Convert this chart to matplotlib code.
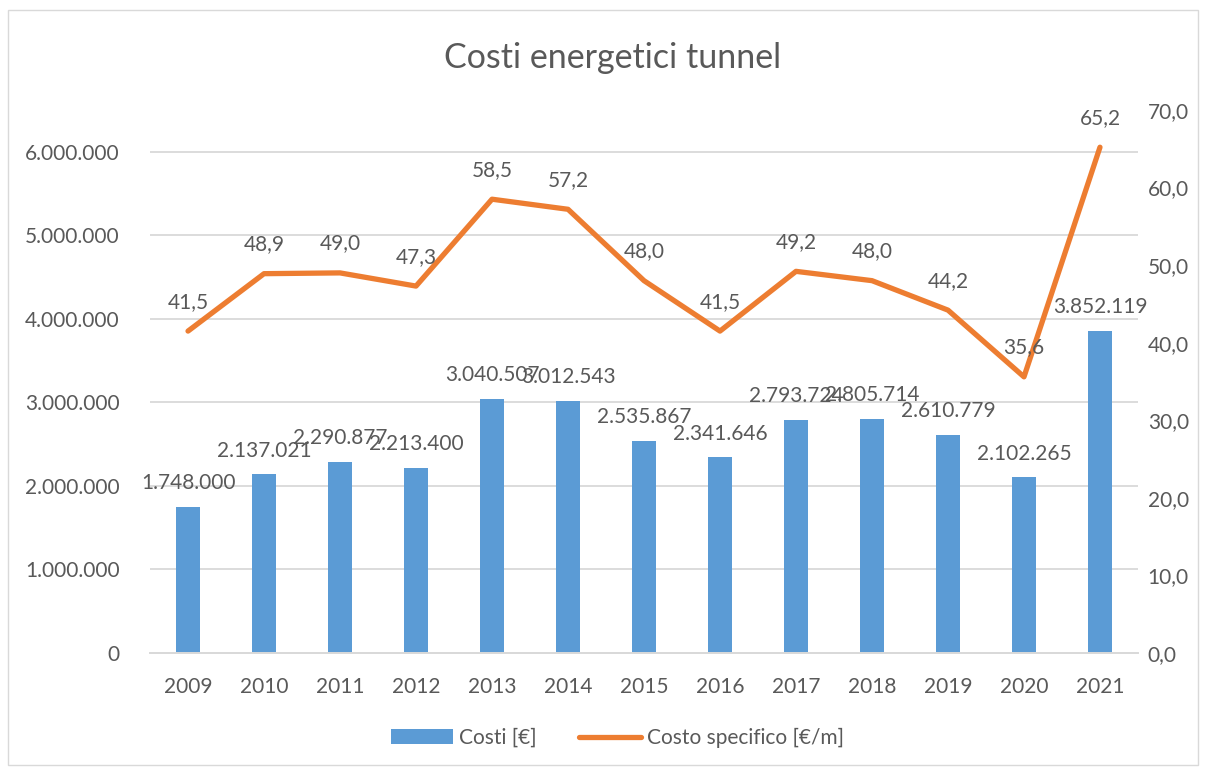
import numpy as np
import matplotlib.pyplot as plt
from matplotlib.ticker import FuncFormatter
from matplotlib.patches import Rectangle

years = ["2009", "2010", "2011", "2012", "2013", "2014", "2015",
         "2016", "2017", "2018", "2019", "2020", "2021"]
costi = [1748000, 2137021, 2290877, 2213400, 3040507, 3012543, 2535867,
         2341646, 2793724, 2805714, 2610779, 2102265, 3852119]
costo_specifico = [41.5, 48.9, 49.0, 47.3, 58.5, 57.2, 48.0,
                   41.5, 49.2, 48.0, 44.2, 35.6, 65.2]

plt.rcParams['font.family'] = ['Lato', 'DejaVu Sans']
text_col = "#595959"
bar_col = "#5B9BD5"
line_col = "#ED7D31"
grid_col = "#D9D9D9"
fs = 15


def it_int(v, pos=None):
    return f"{int(round(v)):,}".replace(",", ".")


def it_dec(v, pos=None):
    return f"{v:.1f}".replace(".", ",")


fig = plt.figure(figsize=(12.06, 7.67), dpi=100)
fig.patches.append(Rectangle((0.007, 0.003), 0.986, 0.984, transform=fig.transFigure,
                             fill=False, edgecolor="#D9D9D9", linewidth=1))
ax = fig.add_axes([0.1244, 0.1486, 0.8192, 0.708])
ax2 = ax.twinx()

x = np.arange(len(years))
ax.bar(x, costi, width=0.32, color=bar_col, label="Costi [€]", zorder=2)
ax.set_ylim(0, 6.5e6)
ax.set_yticks(np.arange(0, 6.5e6, 1e6))
ax.yaxis.set_major_formatter(FuncFormatter(it_int))
ax.set_xlim(-0.5, len(years) - 0.5)
ax.set_xticks(x)
ax.set_xticklabels(years)
ax.grid(axis="y", color=grid_col, linewidth=1.3, zorder=0)
ax.set_axisbelow(True)

for xi, v in zip(x, costi):
    ax.annotate(it_int(v), (xi, v), xytext=(0, 10), textcoords="offset points",
                ha="center", va="bottom", fontsize=fs, color=text_col, zorder=5)

ax2.plot(x, costo_specifico, color=line_col, linewidth=3.8, solid_capstyle="round",
         solid_joinstyle="round", label="Costo specifico [€/m]", zorder=3)
ax2.set_ylim(0, 70)
ax2.set_yticks(np.arange(0, 71, 10))
ax2.yaxis.set_major_formatter(FuncFormatter(it_dec))

for xi, v in zip(x, costo_specifico):
    ax2.annotate(it_dec(v), (xi, v), xytext=(0, 14), textcoords="offset points",
                 ha="center", va="bottom", fontsize=fs, color=text_col)

for a in (ax, ax2):
    for s in ("top", "left", "right"):
        a.spines[s].set_visible(False)
    a.spines["bottom"].set_color(grid_col)
    a.spines["bottom"].set_linewidth(1.3)
    a.tick_params(length=0, labelsize=fs, labelcolor=text_col)

ax.tick_params(axis="x", pad=17)
ax.tick_params(axis="y", pad=22)
ax2.tick_params(axis="y", pad=7)

fig.text(0.508, 0.925, "Costi energetici tunnel", ha="center", va="center",
         fontsize=24.5, color=text_col)

h1, l1 = ax.get_legend_handles_labels()
h2, l2 = ax2.get_legend_handles_labels()
fig.legend(h1 + h2, l1 + l2, loc="center", bbox_to_anchor=(0.512, 0.038), ncol=2,
           frameon=False, fontsize=fs, labelcolor=text_col, handlelength=3.0,
           handletextpad=0.3, columnspacing=2.0)

fig.savefig("out.png", dpi=100)
